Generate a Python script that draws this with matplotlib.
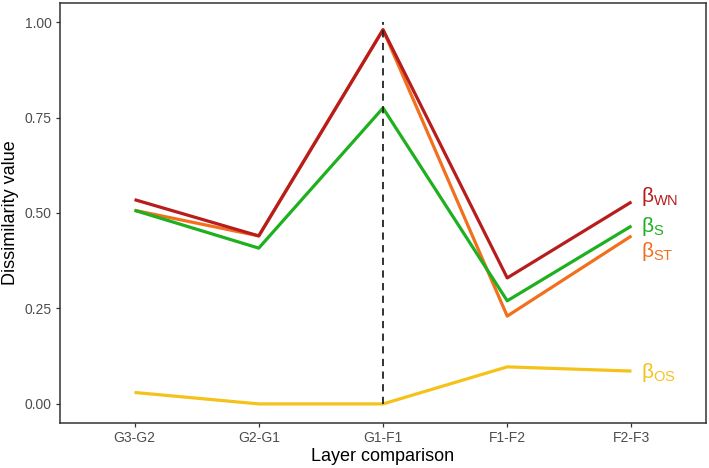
import numpy as np
import matplotlib.pyplot as plt

plt.rcParams['font.family'] = ['Liberation Sans', 'DejaVu Sans']
plt.rcParams['mathtext.fontset'] = 'custom'
plt.rcParams['mathtext.rm'] = 'Liberation Sans'
plt.rcParams['mathtext.it'] = 'Liberation Sans'

comparisons = ['G3-G2', 'G2-G1', 'G1-F1', 'F1-F2', 'F2-F3']
beta_st = [0.507, 0.440, 0.980, 0.230, 0.440]
beta_s = [0.507, 0.408, 0.775, 0.270, 0.466]
beta_wn = [0.535, 0.440, 0.980, 0.330, 0.529]
beta_os = [0.030, 0.000, 0.000, 0.097, 0.086]

series_labels = [r'$\beta_{\mathrm{ST}}$', r'$\beta_{\mathrm{S}}$', r'$\beta_{\mathrm{WN}}$', r'$\beta_{\mathrm{OS}}$']
series_colors = ['#F26F1E', '#1EB01E', '#B81D1D', '#F5C21A']
label_y = [0.40, 0.465, 0.542, 0.083]

fig = plt.figure(figsize=(7.09, 4.68), dpi=100)
ax = fig.add_axes([60 / 709, 45 / 468, 646 / 709, 420 / 468])

x = np.arange(len(comparisons))
for vals, col, lab, ly in zip([beta_st, beta_s, beta_wn, beta_os], series_colors, series_labels, label_y):
    ax.plot(x, vals, color=col, lw=2.3, solid_capstyle='butt')
    ax.text(4.08, ly, lab, color=col, fontsize=15, va='center', ha='left')

ax.plot([2, 2], [0, 1], color='#222222', lw=1.3, ls=(0, (4, 3)), zorder=5)

ax.set_xlim(-0.6, 4.6)
ax.set_ylim(-0.05, 1.05)
ax.set_xticks(x)
ax.set_xticklabels(comparisons)
ax.set_yticks([0, 0.25, 0.5, 0.75, 1.0])
ax.set_yticklabels(['0.00', '0.25', '0.50', '0.75', '1.00'])
ax.tick_params(colors='#333333', labelcolor='#4D4D4D', labelsize=10, length=3, width=0.9, pad=3)
for s in ax.spines.values():
    s.set_color('#333333')
    s.set_linewidth(1.1)
ax.set_xlabel('Layer comparison', fontsize=13, labelpad=2)
ax.set_ylabel('Dissimilarity value', fontsize=13, labelpad=4)

fig.savefig('out.png', dpi=100)
